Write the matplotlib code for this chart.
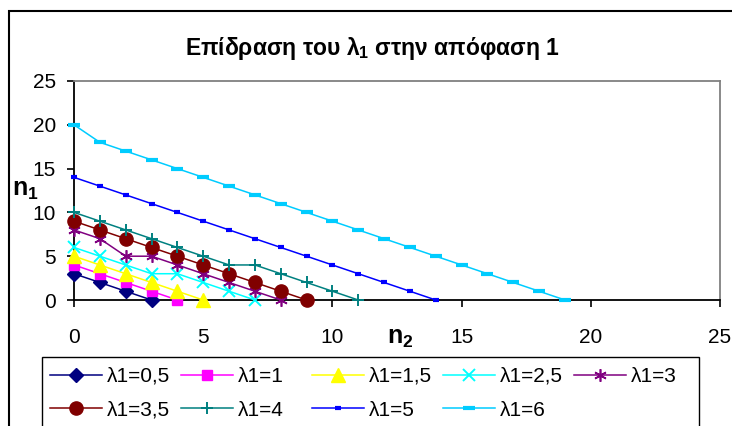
import matplotlib
matplotlib.use("Agg")
import matplotlib.pyplot as plt
from matplotlib.patches import Rectangle

plt.rcParams['font.family'] = ['Liberation Sans', 'DejaVu Sans']
plt.rcParams['mathtext.fontset'] = 'custom'
plt.rcParams['mathtext.rm'] = 'Liberation Sans'
plt.rcParams['mathtext.it'] = 'Liberation Sans:italic'
plt.rcParams['mathtext.bf'] = 'Liberation Sans:bold'

# n2 values are 0,1,2,... for each series; n1 values
labels = ["λ1=0,5", "λ1=1", "λ1=1,5", "λ1=2,5", "λ1=3",
          "λ1=3,5", "λ1=4", "λ1=5", "λ1=6"]
n1_l05 = [3, 2, 1, 0]
n1_l1 = [4, 3, 2, 1, 0]
n1_l15 = [5, 4, 3, 2, 1, 0]
n1_l25 = [6, 5, 4, 3, 3, 2, 1, 0]
n1_l3 = [8, 7, 5, 5, 4, 3, 2, 1, 0]
n1_l35 = [9, 8, 7, 6, 5, 4, 3, 2, 1, 0]
n1_l4 = [10, 9, 8, 7, 6, 5, 4, 4, 3, 2, 1, 0]
n1_l5 = [14, 13, 12, 11, 10, 9, 8, 7, 6, 5, 4, 3, 2, 1, 0]
n1_l6 = [20, 18, 17, 16, 15, 14, 13, 12, 11, 10, 9, 8, 7, 6, 5, 4, 3, 2, 1, 0]
series = [n1_l05, n1_l1, n1_l15, n1_l25, n1_l3, n1_l35, n1_l4, n1_l5, n1_l6]

colors = ["#000080", "#FF00FF", "#FFFF00", "#00FFFF", "#800080",
          "#800000", "#008080", "#0000FF", "#00CCFF"]
markers = ["D", "s", "^", "x", (6, 2, 0), "o", "+", "_", "_"]
msizes = [7, 7, 10, 8, 9, 9.5, 9, 5, 9]
mews = [1, 1, 1, 1.4, 1.2, 1, 1.4, 3, 3]

W, H = 732, 426
fig = plt.figure(figsize=(W / 100, H / 100), dpi=100)
ax = fig.add_axes([74 / W, 1 - 300 / H, (720 - 74) / W, (300 - 81) / H])

handles = []
for y, lab, c, m, ms, mew in zip(series, labels, colors, markers, msizes, mews):
    x = list(range(len(y)))
    h, = ax.plot(x, y, color=c, lw=1.1, marker=m, ms=ms, mew=mew,
                 mec=c, mfc=c, label=lab, clip_on=False, zorder=3)
    handles.append(h)

ax.set_xlim(0, 25)
ax.set_ylim(0, 25)
ax.set_xticks(range(0, 26, 5))
ax.set_yticks(range(0, 26, 5))
ax.tick_params(direction='out', length=5, width=1.2, labelsize=15, color='black')
ax.tick_params(axis='x', pad=15)
ax.tick_params(axis='y', pad=8)
for s in ['left', 'bottom']:
    ax.spines[s].set_color('black')
    ax.spines[s].set_linewidth(1.3)
for s in ['top', 'right']:
    ax.spines[s].set_color('#808080')
    ax.spines[s].set_linewidth(1.3)

fig.text(372 / W, 1 - 55 / H, r'Επίδραση του $\mathbf{λ_1}$ στην απόφαση 1',
         fontsize=16.5, fontweight='bold', ha='center', va='baseline')
fig.text(12 / W, 1 - 190 / H, r'$\mathbf{n_1}$', fontsize=18, ha='left', va='center')
fig.text(387 / W, 1 - 338 / H, r'$\mathbf{n_2}$', fontsize=18, ha='left', va='center')

# outer chart-area border (extends off the right and bottom edges)
fig.add_artist(Rectangle((9 / W, -0.5), 2, 1.5 - 11 / H, fill=False,
                         edgecolor='black', lw=1.5, transform=fig.transFigure))
# legend frame
fig.add_artist(Rectangle((42 / W, -0.5), (699 - 42) / W, 1.5 - 357 / H, fill=False,
                         edgecolor='black', lw=1.0, transform=fig.transFigure))

# Excel-style legend: equal-width columns, filled row by row
ncol = 5
for c in range(ncol):
    hs = [handles[i] for i in (c, c + ncol) if i < len(handles)]
    fig.legend(handles=hs, loc='upper left',
               bbox_to_anchor=((50 + 131 * c) / W, 1 - 367 / H),
               bbox_transform=fig.transFigure, frameon=False, fontsize=15,
               handlelength=2.5, handletextpad=0.25, labelspacing=0.7,
               borderpad=0, borderaxespad=0, numpoints=1)

fig.savefig("out.png", dpi=100)
